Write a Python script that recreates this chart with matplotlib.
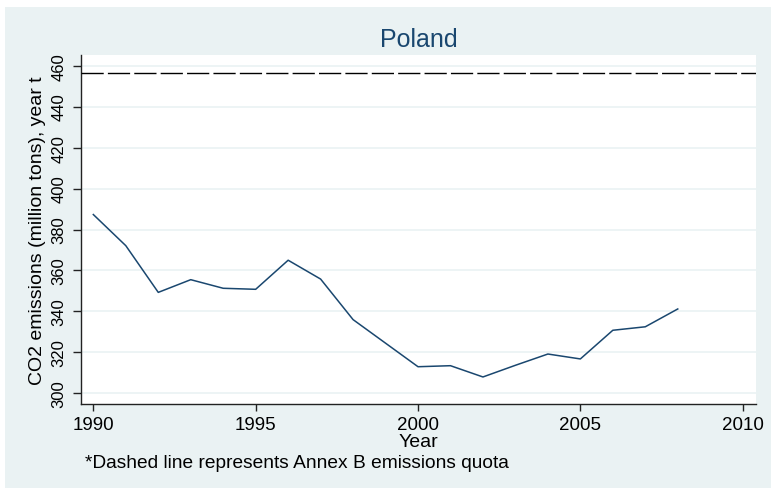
import matplotlib.pyplot as plt
from matplotlib.patches import Rectangle

plt.rcParams['font.family'] = ['Liberation Sans', 'DejaVu Sans']

# CO2 emissions, Poland (million tons)
years = [1990, 1991, 1992, 1993, 1994, 1995, 1996, 1997, 1998, 1999,
         2000, 2001, 2002, 2003, 2004, 2005, 2006, 2007, 2008]
emissions = [387.3, 372.1, 349.3, 355.5, 351.3, 350.8, 365.0, 355.8, 336.0, 324.5,
             313.0, 313.5, 308.0, 313.7, 319.2, 316.8, 330.8, 332.5, 341.2]
quota = 456.4

x_ticks = [1990, 1995, 2000, 2005, 2010]
y_ticks = [300, 320, 340, 360, 380, 400, 420, 440, 460]

navy = '#1a476f'
bg = '#eaf2f3'

fig = plt.figure(figsize=(7.71, 4.89), dpi=100, facecolor='white')
fig.patches.append(Rectangle((5 / 771, 0), 1, 1 - 8 / 489, transform=fig.transFigure,
                             facecolor=bg, edgecolor='none', zorder=-10))

ax = fig.add_axes([81 / 771, 84 / 489, 675 / 771, 349 / 489])
ax.set_facecolor('white')

ax.plot(years, emissions, color=navy, linewidth=1.1, zorder=3)
ax.axhline(quota, color='black', linewidth=1.0, dashes=(16, 3), zorder=3)

ax.set_xlim(1989.62, 2010.41)
ax.set_ylim(294.8, 465.2)
ax.set_xticks(x_ticks)
ax.set_yticks(y_ticks)
ax.grid(axis='y', color=bg, linewidth=1.2, zorder=0)
ax.set_axisbelow(True)

for s in ['top', 'right']:
    ax.spines[s].set_visible(False)
for s in ['left', 'bottom']:
    ax.spines[s].set_color('#222222')
    ax.spines[s].set_linewidth(1.0)

ax.tick_params(axis='x', length=5, width=1, color='#222222', labelsize=13.5, pad=3.5)
ax.tick_params(axis='y', length=5.8, width=1, color='#222222', labelsize=12, pad=4.5)
plt.setp(ax.get_yticklabels(), rotation=90, va='center')

ax.set_xlabel('Year', fontsize=14, labelpad=0)
ax.set_ylabel('CO2 emissions (million tons), year t', fontsize=14, labelpad=4)

fig.text(418.5 / 771, 1 - 40 / 489, 'Poland', ha='center', va='center',
         fontsize=18, color=navy)
fig.text(85 / 771, 1 - 464 / 489, '*Dashed line represents Annex B emissions quota',
         ha='left', va='center', fontsize=13.8)

fig.savefig('out.png', dpi=100, facecolor=fig.get_facecolor())
